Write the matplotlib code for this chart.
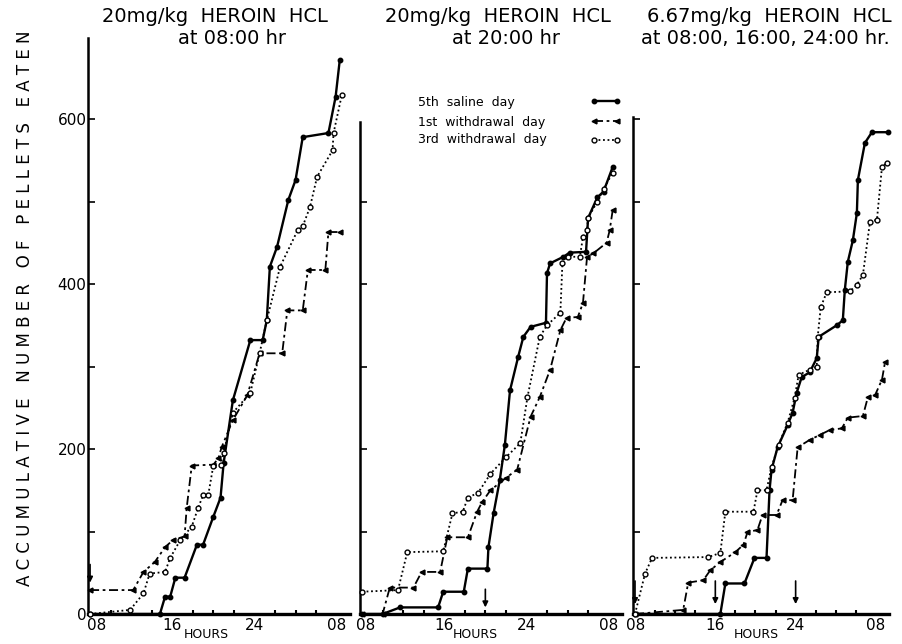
import numpy as np
import matplotlib
matplotlib.use("Agg")
from matplotlib import pyplot as plt
from matplotlib.lines import Line2D
from matplotlib.transforms import ScaledTranslation

plt.rcParams['font.family'] = ['DejaVu Sans']

title_line1 = ["20mg/kg  HEROIN  HCL", "20mg/kg  HEROIN  HCL", "6.67mg/kg  HEROIN  HCL"]
title_line2 = ["at 08:00 hr", "at 20:00 hr", "at 08:00, 16:00, 24:00 hr."]
injections = [[8], [20], [8, 16, 24]]
series_names = ["5th  saline  day", "1st  withdrawal  day", "3rd  withdrawal  day"]
hour_ticks = [8, 16, 24, 32]
hour_labels = ["08", "16", "24", "08"]
count_ticks = [0, 200, 400, 600]

# panel 1 : 20 mg/kg at 08:00
p1_sal_h = [8.0, 14.8, 15.3, 15.8, 16.3, 17.2, 18.4, 19.0, 20.0, 20.7, 21.0, 21.9, 23.6, 24.8, 25.2, 25.5, 26.2, 27.3, 28.0, 28.7, 31.2, 31.9, 32.3]
p1_sal_n = [0, 0, 21, 21, 44, 44, 84, 84, 118, 141, 183, 259, 332, 332, 356, 421, 445, 502, 526, 578, 583, 627, 671]
p1_w1_h = [8.0, 12.2, 13.2, 14.3, 15.3, 16.1, 17.2, 17.4, 17.9, 20.0, 20.5, 20.8, 21.9, 23.3, 24.5, 26.7, 27.2, 28.7, 29.2, 30.9, 31.2, 32.3]
p1_w1_n = [29, 29, 51, 63, 81, 90, 94, 128, 180, 181, 189, 202, 235, 265, 316, 316, 368, 368, 417, 417, 463, 463]
p1_w3_h = [8.0, 11.9, 13.2, 13.8, 15.3, 15.8, 16.8, 17.9, 18.5, 19.0, 19.5, 20.0, 20.7, 21.0, 21.9, 23.6, 24.5, 25.2, 26.5, 28.2, 28.7, 29.4, 30.1, 31.6, 31.7, 32.5]
p1_w3_n = [0, 5, 25, 49, 51, 68, 90, 106, 128, 144, 144, 180, 181, 195, 244, 268, 316, 356, 421, 465, 470, 493, 530, 562, 583, 629]

# panel 2 : 20 mg/kg at 20:00
p2_sal_h = [8.0, 10.0, 11.7, 15.4, 15.9, 17.9, 18.3, 20.2, 20.3, 20.8, 21.4, 21.9, 22.4, 23.2, 23.7, 24.4, 25.9, 26.0, 26.3, 27.6, 28.2, 29.8, 30.0, 30.9, 31.5, 32.4]
p2_sal_n = [0, 0, 8, 8, 27, 27, 55, 55, 81, 122, 162, 205, 271, 312, 336, 348, 353, 413, 425, 433, 438, 439, 480, 505, 512, 542]
p2_w1_h = [8.0, 10.0, 10.7, 13.0, 13.8, 15.6, 16.3, 18.3, 19.2, 19.7, 20.5, 22.0, 23.1, 24.4, 25.3, 26.3, 27.3, 27.9, 29.0, 29.5, 29.9, 30.5, 31.8, 32.1, 32.4]
p2_w1_n = [0, 0, 32, 32, 51, 51, 93, 93, 124, 136, 150, 165, 175, 239, 263, 296, 344, 359, 360, 377, 433, 437, 450, 465, 490]
p2_w3_h = [8.0, 11.5, 12.4, 15.9, 16.8, 17.8, 18.3, 19.3, 20.5, 22.0, 23.4, 24.1, 25.3, 26.0, 27.3, 27.5, 28.0, 29.2, 29.5, 29.9, 30.0, 30.9, 31.5, 32.4]
p2_w3_n = [27, 29, 75, 76, 122, 124, 141, 147, 170, 190, 207, 263, 336, 350, 365, 425, 433, 433, 457, 465, 480, 500, 515, 535]

# panel 3 : 6.67 mg/kg at 08:00, 16:00, 24:00
p3_sal_h = [8.0, 16.5, 17.0, 18.9, 19.9, 21.1, 21.4, 21.6, 22.2, 23.2, 23.7, 24.1, 24.6, 25.4, 26.1, 26.3, 28.1, 28.7, 28.9, 29.2, 29.7, 30.1, 30.2, 30.9, 31.6, 33.2]
p3_sal_n = [0, 0, 37, 37, 68, 68, 150, 175, 202, 229, 244, 268, 287, 293, 310, 336, 350, 356, 393, 427, 453, 486, 526, 571, 584, 584]
p3_w1_h = [8.0, 12.8, 13.3, 14.8, 15.5, 16.5, 18.0, 18.8, 19.2, 20.2, 20.7, 22.1, 22.7, 23.7, 24.2, 25.4, 26.4, 27.4, 28.6, 29.2, 30.7, 31.2, 31.9, 32.6, 32.9]
p3_w1_n = [0, 5, 38, 41, 53, 63, 75, 84, 99, 102, 120, 120, 138, 138, 202, 211, 217, 223, 225, 238, 240, 263, 265, 284, 305]
p3_w3_h = [8.0, 9.0, 9.7, 15.3, 16.5, 17.0, 19.8, 20.2, 21.1, 21.6, 22.3, 23.2, 23.9, 24.3, 25.4, 26.1, 26.2, 26.5, 27.1, 29.4, 30.1, 30.7, 31.4, 32.1, 32.6, 33.1]
p3_w3_n = [0, 49, 68, 69, 74, 124, 124, 150, 150, 178, 205, 232, 262, 290, 296, 300, 336, 372, 390, 391, 399, 411, 475, 478, 542, 547]

panels = [
    [(p1_sal_h, p1_sal_n), (p1_w1_h, p1_w1_n), (p1_w3_h, p1_w3_n)],
    [(p2_sal_h, p2_sal_n), (p2_w1_h, p2_w1_n), (p2_w3_h, p2_w3_n)],
    [(p3_sal_h, p3_sal_n), (p3_w1_h, p3_w1_n), (p3_w3_h, p3_w3_n)],
]

styles = [
    dict(ls='-', lw=1.7, marker='o', ms=3.2, mfc='k', mec='k'),
    dict(ls=(0, (5, 2, 1.5, 2)), lw=1.3, marker='<', ms=3.5, mfc='k', mec='k'),
    dict(ls=(0, (1, 1.5)), lw=1.3, marker='o', ms=3.5, mfc='white', mec='k', mew=1.0),
]

W, H = 902, 644
fig = plt.figure(figsize=(W / 100, H / 100), dpi=100)

# pixel layout of the three panels
lefts = [88, 360, 633]
widths = [262, 262, 256]
spine_tops = [698, 596, 602]
y0_px = 614
px_per_count = 0.825
ymax = 700
title_x = [215, 498, 769]
title2_x = [232, 506, 765]
hours_x = [0.45, 0.44, 0.48]
first_label_shift = [7, 4, 1]   # hand lettered "08" sits right of its tick
arrow_span = [(60, 38), (30, 8), (40, 12)]

axes = []
for i in range(3):
    ax_h = ymax * px_per_count
    ax = fig.add_axes([lefts[i] / W, (H - y0_px) / H, widths[i] / W, ax_h / H])
    ax.set_xlim(7.8, 33.3)
    ax.set_ylim(0, ymax)
    for spine in ['top', 'right']:
        ax.spines[spine].set_visible(False)
    ax.spines['left'].set_bounds(0, spine_tops[i])
    ax.spines['left'].set_linewidth(1.8)
    ax.spines['bottom'].set_linewidth(2.4)

    for (h, n), st in zip(panels[i], styles):
        ax.plot(h, n, color='k', clip_on=False, zorder=3, **st)

    for t in injections[i]:
        ax.annotate('', xy=(t, arrow_span[i][1]), xytext=(t, arrow_span[i][0]),
                    arrowprops=dict(arrowstyle='-|>', color='k', lw=1.2,
                                    mutation_scale=8, shrinkA=0, shrinkB=0))

    ax.set_xticks(hour_ticks)
    ax.set_xticklabels(hour_labels)
    ax.set_xticks(np.arange(8, 33, 2), minor=True)
    ax.tick_params(axis='x', which='major', length=0, pad=3, labelsize=11)
    ax.tick_params(axis='x', which='minor', direction='in', length=3, width=1.5)
    lab = ax.get_xticklabels()[0]
    lab.set_transform(lab.get_transform() + ScaledTranslation(first_label_shift[i] / 100, 0, fig.dpi_scale_trans))
    ax.set_yticks([t for t in count_ticks if t <= spine_tops[i]])
    ax.set_yticks([t for t in [100, 300, 500] if t <= spine_tops[i]], minor=True)
    ax.tick_params(axis='y', which='both', direction='in', length=5, width=1.2,
                   labelsize=11, pad=1)
    if i > 0:
        ax.set_yticklabels([])
    ax.set_xlabel('HOURS', fontsize=9)
    ax.xaxis.set_label_coords(hours_x[i], -0.024)
    ax.xaxis.label.set_va('top')
    ax.patch.set_alpha(0)

    fig.text(title_x[i] / W, 1 - 17 / H, title_line1[i], ha='center', va='center', fontsize=14)
    fig.text(title2_x[i] / W, 1 - 39 / H, title_line2[i], ha='center', va='center', fontsize=14)
    axes.append(ax)

# legend: labels left aligned, keys to the right
ax2 = axes[1]
row_y = [0.885, 0.851, 0.821]
for name, y in zip(series_names, row_y):
    ax2.text(0.221, y, name, transform=ax2.transAxes, fontsize=9, ha='left', va='center')
handles = [Line2D([], [], color='k', **st) for st in styles]
ax2.legend(handles, ['', '', ''], loc='center left', bbox_to_anchor=(0.855, 0.853),
           frameon=False, numpoints=2, fontsize=9, handlelength=2.4,
           handletextpad=0, labelspacing=0.55, borderpad=0)

ylabel = "   ".join(" ".join(word) for word in "ACCUMULATIVE NUMBER OF PELLETS EATEN".split())
fig.text(25 / W, 1 - 308 / H, ylabel, rotation=90, ha='center', va='center', fontsize=12)

fig.savefig("out.png", dpi=100)
